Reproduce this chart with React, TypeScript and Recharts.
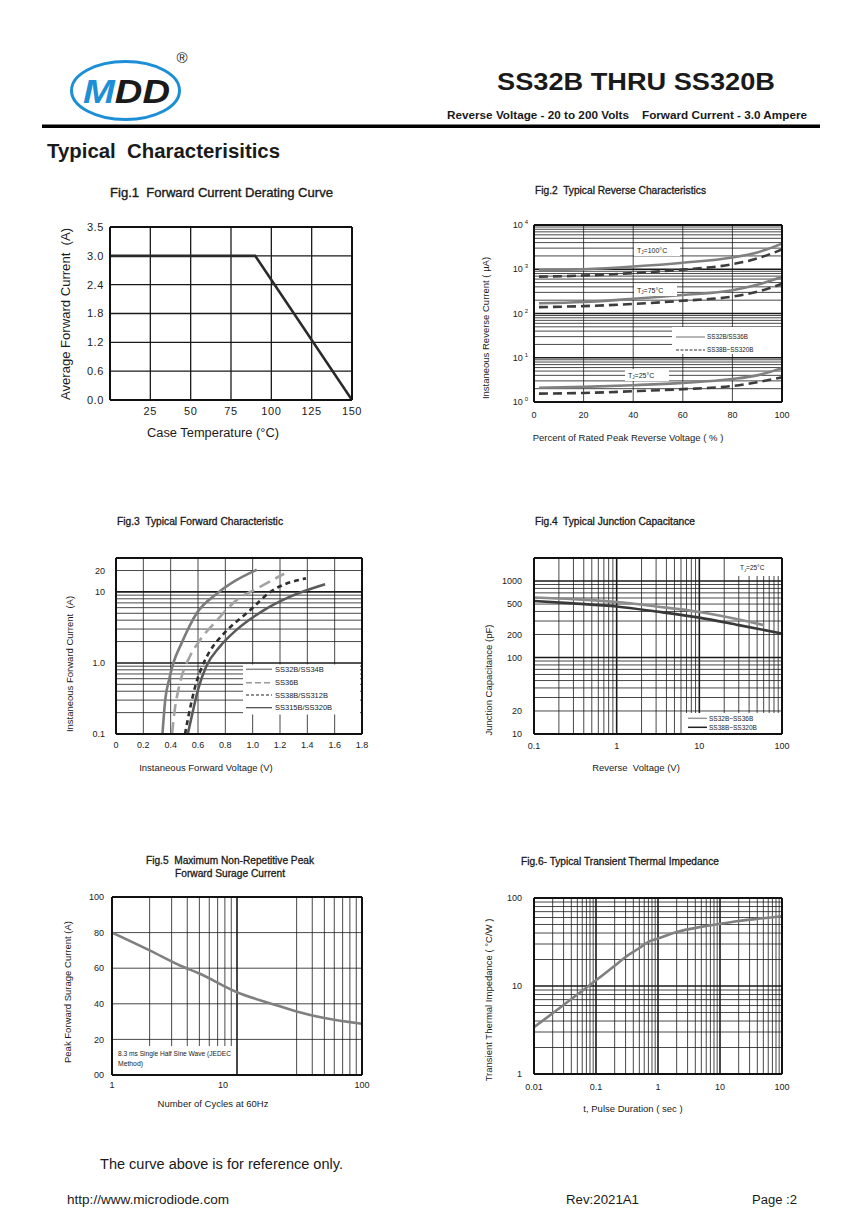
import React from 'react';
import { LineChart, Line, XAxis, YAxis, ReferenceLine } from 'recharts';

const FONT = '"Liberation Sans", Arial, Helvetica, sans-serif';

// ---------- Fig.1 Forward Current Derating Curve ----------
const fig1Temp = [0, 90, 150];
const fig1Current = [3.0, 3.0, 0];
const fig1XTicks = [25, 50, 75, 100, 125, 150];
const fig1YTicks = [0, 0.6, 1.2, 1.8, 2.4, 3.0, 3.6];
const fig1YLabels = ['0.0', '0.6', '1.2', '1.8', '2.4', '3.0', '3.5'];

// ---------- Fig.2 Typical Reverse Characteristics ----------
const fig2Pct = [2, 20, 40, 60, 80, 90, 100];
const fig2Solid100 = [950, 1000, 1150, 1400, 1850, 2400, 3800];
const fig2Dash100 = [680, 720, 820, 980, 1300, 1750, 2800];
const fig2Solid75 = [170, 182, 215, 262, 336, 445, 675];
const fig2Dash75 = [139, 147, 164, 194, 241, 309, 468];
const fig2Solid25 = [2.1, 2.2, 2.4, 2.7, 3.3, 4.0, 5.8];
const fig2Dash25 = [1.55, 1.6, 1.75, 1.95, 2.3, 2.8, 3.6];
const fig2XTicks = [0, 20, 40, 60, 80, 100];
const fig2YTicks = [1, 10, 100, 1000, 10000];
const fig2YExp = ['0', '1', '2', '3', '4'];

// ---------- Fig.3 Typical Forward Characteristic ----------
const fig3V_a = [0.34, 0.36, 0.39, 0.42, 0.48, 0.59, 0.74, 0.88, 1.03];
const fig3I_a = [0.1, 0.3, 0.6, 1.0, 1.9, 5.0, 9.5, 14.6, 20.5];
const fig3V_b = [0.41, 0.43, 0.46, 0.48, 0.54, 0.615, 0.74, 0.88, 1.03, 1.23];
const fig3I_b = [0.1, 0.22, 0.45, 0.64, 1.23, 2.1, 4.0, 7.6, 11.1, 18];
const fig3V_c = [0.505, 0.54, 0.58, 0.63, 0.69, 0.79, 0.98, 1.13, 1.39];
const fig3I_c = [0.1, 0.22, 0.47, 0.89, 1.5, 2.6, 5.5, 10, 15.5];
const fig3V_d = [0.525, 0.565, 0.6, 0.66, 0.76, 0.88, 1.08, 1.27, 1.53];
const fig3I_d = [0.1, 0.22, 0.42, 0.89, 1.7, 2.9, 5.5, 8.5, 12.8];
const fig3XTicks = [0, 0.2, 0.4, 0.6, 0.8, 1.0, 1.2, 1.4, 1.6, 1.8];
const fig3XLabels = ['0', '0.2', '0.4', '0.6', '0.8', '1.0', '1.2', '1.4', '1.6', '1.8'];
const fig3YTicks = [0.1, 1, 10, 20];
const fig3YLabels = ['0.1', '1.0', '10', '20'];
const fig3Legend = ['SS32B/SS34B', 'SS36B', 'SS38B/SS312B', 'SS315B/SS320B'];

// ---------- Fig.4 Typical Junction Capacitance ----------
const fig4V_light = [0.1, 0.3, 1, 3, 10, 30, 61];
const fig4C_light = [610, 580, 532, 465, 394, 315, 265];
const fig4V_dark = [0.1, 0.3, 1, 3, 10, 30, 100];
const fig4C_dark = [548, 510, 465, 400, 332, 265, 206];
const fig4XTicks = [0.1, 1, 10, 100];
const fig4XLabels = ['0.1', '1', '10', '100'];
const fig4YTicks = [10, 20, 100, 200, 500, 1000];
const fig4YLabels = ['10', '20', '100', '200', '500', '1000'];
const fig4Legend = ['SS32B~SS36B', 'SS38B~SS320B'];

// ---------- Fig.5 Maximum Non-Repetitive Peak Forward Surage Current ----------
const fig5Cycles = [1, 2, 3.5, 5, 10, 20, 30, 50, 100];
const fig5Amps = [80, 70, 61.5, 57, 46.5, 39.5, 35.7, 32, 28.8];
const fig5XTicks = [1, 10, 100];
const fig5XLabels = ['1', '10', '100'];
const fig5YTicks = [0, 20, 40, 60, 80, 100];
const fig5YLabels = ['00', '20', '40', '60', '80', '100'];

// ---------- Fig.6 Typical Transient Thermal Impedance ----------
const fig6Time = [0.01, 0.02, 0.05, 0.1, 0.2, 0.3, 0.5, 0.7, 1, 2, 5, 10, 20, 50, 100];
const fig6Z = [3.4, 4.9, 8.0, 11.6, 17, 21.4, 27, 31.8, 34.6, 41, 47, 51, 54.8, 58.8, 62];
const fig6XTicks = [0.01, 0.1, 1, 10, 100];
const fig6XLabels = ['0.01', '0.1', '1', '10', '100'];
const fig6YTicks = [1, 10, 100];
const fig6YLabels = ['1', '10', '100'];

// ---------- helpers ----------
const zip = (xs: number[], ys: number[]) => xs.map((x, i) => ({ x, y: ys[i] }));
const logMinor = (lo: number, hi: number) => {
  const out: number[] = [];
  for (let e = lo; e < hi; e++) for (let m = 2; m <= 9; m++) out.push(m * Math.pow(10, e));
  return out;
};

const labelOf = (ticks: number[], labels: string[], v: number) => {
  const i = ticks.findIndex((t) => Math.abs(t - v) < 1e-9 * Math.max(1, Math.abs(t)));
  return i >= 0 ? labels[i] : String(v);
};

const xTick = (ticks: number[], labels: string[], size = 9, ls = 0, shift: Record<string, number> = {}) =>
  (p: any) => {
    const lab = labelOf(ticks, labels, p.payload.value);
    return (
      <text x={p.x + (shift[lab] || 0)} y={p.y} dy="0.35em" textAnchor="middle" fontSize={size}
        fontFamily={FONT} fill="#222" letterSpacing={ls}>{lab}</text>
    );
  };

const yTick = (ticks: number[], labels: string[], size = 9, ls = 0) =>
  (p: any) => (
    <text x={p.x} y={p.y} dy="0.35em" textAnchor="end" fontSize={size} fontFamily={FONT}
      fill="#222" letterSpacing={ls}>{labelOf(ticks, labels, p.payload.value)}</text>
  );

const yTickPow = (ticks: number[], exps: string[]) =>
  (p: any) => (
    <text x={p.x} y={p.y} dy="0.35em" textAnchor="end" fontSize={9} fontFamily={FONT} fill="#222">
      10<tspan dx={2} dy={-4} fontSize={6}>{labelOf(ticks, exps, p.payload.value)}</tspan>
    </text>
  );

type Box = { x: number; y: number; w: number; h: number };
type Series = { data: { x: number; y: number }[]; stroke: string; width: number; dash?: string; curve?: 'linear' | 'monotone' };

const PL = 60, PT = 10, PR = 10, PB = 30;

function Fig(props: {
  box: Box;
  xDomain: [number, number]; xLog?: boolean; xTicks: number[]; xTickEl: any; xMargin: number;
  yDomain: [number, number]; yLog?: boolean; yTicks: number[]; yTickEl: any; yMargin: number;
  vMinor: number[]; vMajor: number[]; hMinor: number[]; hMajor: number[];
  minorW?: number; majorW?: number; gridColor?: string;
  series: Series[];
}) {
  const { box, minorW = 0.8, majorW = 1.6, gridColor = '#1a1a1a' } = props;
  return (
    <div style={{ position: 'absolute', left: box.x - PL, top: box.y - PT }}>
      <LineChart width={box.w + PL + PR} height={box.h + PT + PB} margin={{ top: PT, right: PR, left: 0, bottom: 0 }}>
        <XAxis type="number" dataKey="x" domain={props.xDomain} scale={props.xLog ? 'log' : 'linear'}
          ticks={props.xTicks} interval={0} tick={props.xTickEl} tickLine={false} axisLine={false}
          tickSize={0} tickMargin={props.xMargin} height={PB} allowDataOverflow />
        <YAxis type="number" domain={props.yDomain} scale={props.yLog ? 'log' : 'linear'}
          ticks={props.yTicks} interval={0} tick={props.yTickEl} tickLine={false} axisLine={false}
          tickSize={0} tickMargin={props.yMargin} width={PL} allowDataOverflow />
        {props.vMinor.map((v) => <ReferenceLine key={'vm' + v} x={v} stroke={gridColor} strokeWidth={minorW} />)}
        {props.hMinor.map((v) => <ReferenceLine key={'hm' + v} y={v} stroke={gridColor} strokeWidth={minorW} />)}
        {props.vMajor.map((v) => <ReferenceLine key={'vM' + v} x={v} stroke={gridColor} strokeWidth={majorW} />)}
        {props.hMajor.map((v) => <ReferenceLine key={'hM' + v} y={v} stroke={gridColor} strokeWidth={majorW} />)}
        {props.series.map((s, i) => (
          <Line key={'s' + i} data={s.data} dataKey="y" type={s.curve || 'monotone'} stroke={s.stroke}
            strokeWidth={s.width} strokeDasharray={s.dash} dot={false} activeDot={false}
            isAnimationActive={false} />
        ))}
        <ReferenceLine x={props.xDomain[0]} stroke="#111" strokeWidth={2} />
        <ReferenceLine x={props.xDomain[1]} stroke="#111" strokeWidth={2} />
        <ReferenceLine y={props.yDomain[0]} stroke="#111" strokeWidth={2} />
        <ReferenceLine y={props.yDomain[1]} stroke="#111" strokeWidth={2} />
      </LineChart>
    </div>
  );
}

function T(p: {
  x: number; y: number; size?: number; anchor?: 'start' | 'middle' | 'end'; bold?: boolean;
  len?: number; rot?: boolean; fill?: string; sw?: number; ls?: number; children: any;
}) {
  const size = p.size || 10;
  const x = p.rot ? p.x + size * 0.35 : p.x;
  return (
    <text x={x} y={p.y} fontSize={size} fontFamily={FONT} fontWeight={p.bold ? 'bold' : 'normal'}
      textAnchor={p.anchor || 'start'} fill={p.fill || '#1a1a1a'}
      stroke={p.sw ? p.fill || '#1a1a1a' : undefined} strokeWidth={p.sw}
      letterSpacing={p.ls} xmlSpace="preserve" style={{ whiteSpace: 'pre' }}
      textLength={p.len} lengthAdjust={p.len ? 'spacingAndGlyphs' : undefined}
      transform={p.rot ? `rotate(-90 ${x} ${p.y})` : undefined}>
      {p.children}
    </text>
  );
}

const TJ = ({ x, y, t, size = 7 }: { x: number; y: number; t: string; size?: number }) => (
  <text x={x} y={y} fontSize={size} fontFamily={FONT} fill="#222">
    T<tspan fontSize={size * 0.65} dy={1.5}>J</tspan><tspan dy={-1.5}>{t}</tspan>
  </text>
);

export default function App() {
  const GRAY = '#808080';
  return (
    <div style={{ position: 'absolute', left: 0, top: 0, width: 868, height: 1228, background: '#fff', fontFamily: FONT }}>
      {/* Fig 1 */}
      <Fig box={{ x: 110, y: 227, w: 242, h: 173 }}
        xDomain={[0, 150]} xTicks={fig1XTicks} xTickEl={xTick(fig1XTicks, fig1XTicks.map(String), 11, 0.6)} xMargin={11}
        yDomain={[0, 3.6]} yTicks={fig1YTicks} yTickEl={yTick(fig1YTicks, fig1YLabels, 11, 0.6)} yMargin={6}
        vMinor={[25, 50, 75, 100, 125]} vMajor={[]} hMinor={[0.6, 1.2, 1.8, 2.4, 3.0]} hMajor={[]}
        minorW={1.3}
        series={[{ data: zip(fig1Temp, fig1Current), stroke: '#2a2a2a', width: 2.6, curve: 'linear' }]} />

      {/* Fig 2 */}
      <Fig box={{ x: 534, y: 225, w: 248, h: 177 }}
        xDomain={[0, 100]} xTicks={fig2XTicks} xTickEl={xTick(fig2XTicks, fig2XTicks.map(String))} xMargin={13}
        yDomain={[1, 10000]} yLog yTicks={fig2YTicks} yTickEl={yTickPow(fig2YTicks, fig2YExp)} yMargin={6}
        vMinor={[20, 40, 60, 80]} vMajor={[]} hMinor={logMinor(0, 4)} hMajor={[10, 100, 1000]}
        series={[
          { data: zip(fig2Pct, fig2Solid100), stroke: GRAY, width: 2.6 },
          { data: zip(fig2Pct, fig2Dash100), stroke: '#3c3c3c', width: 2.6, dash: '9 5' },
          { data: zip(fig2Pct, fig2Solid75), stroke: GRAY, width: 2.6 },
          { data: zip(fig2Pct, fig2Dash75), stroke: '#3c3c3c', width: 2.6, dash: '9 5' },
          { data: zip(fig2Pct, fig2Solid25), stroke: GRAY, width: 2.6 },
          { data: zip(fig2Pct, fig2Dash25), stroke: '#3c3c3c', width: 2.6, dash: '9 5' },
        ]} />

      {/* Fig 3 */}
      <Fig box={{ x: 116, y: 558, w: 246, h: 176 }}
        xDomain={[0, 1.8]} xTicks={fig3XTicks} xTickEl={xTick(fig3XTicks, fig3XLabels)} xMargin={11}
        yDomain={[0.1, 30]} yLog yTicks={fig3YTicks} yTickEl={yTick(fig3YTicks, fig3YLabels)} yMargin={11}
        vMinor={[0.2, 0.4, 0.6, 0.8, 1.0, 1.2, 1.4, 1.6]} vMajor={[]}
        hMinor={[...logMinor(-1, 1), 20]} hMajor={[1, 10]}
        series={[
          { data: zip(fig3V_a, fig3I_a), stroke: '#7c7c7c', width: 2.6 },
          { data: zip(fig3V_b, fig3I_b), stroke: '#a3a3a3', width: 2.6, dash: '12 6' },
          { data: zip(fig3V_c, fig3I_c), stroke: '#2e2e2e', width: 2.6, dash: '5 4' },
          { data: zip(fig3V_d, fig3I_d), stroke: '#5a5a5a', width: 2.6 },
        ]} />

      {/* Fig 4 */}
      <Fig box={{ x: 534, y: 558, w: 248, h: 176 }}
        xDomain={[0.1, 100]} xLog xTicks={fig4XTicks} xTickEl={xTick(fig4XTicks, fig4XLabels)} xMargin={12}
        yDomain={[10, 2000]} yLog yTicks={fig4YTicks} yTickEl={yTick(fig4YTicks, fig4YLabels)} yMargin={12}
        vMinor={logMinor(-1, 2)} vMajor={[1, 10]} hMinor={logMinor(1, 3)} hMajor={[100, 1000]}
        series={[
          { data: zip(fig4V_light, fig4C_light), stroke: '#8c8c8c', width: 2.6 },
          { data: zip(fig4V_dark, fig4C_dark), stroke: '#383838', width: 2.6 },
        ]} />

      {/* Fig 5 */}
      <Fig box={{ x: 112, y: 897, w: 250, h: 178 }}
        xDomain={[1, 100]} xLog xTicks={fig5XTicks} xTickEl={xTick(fig5XTicks, fig5XLabels, 9, 0, { '10': -14 })} xMargin={10}
        yDomain={[0, 100]} yTicks={fig5YTicks} yTickEl={yTick(fig5YTicks, fig5YLabels)} yMargin={8}
        vMinor={[2, 3, 4, 5, 6, 7, 8, 9, 30, 40, 50, 60, 70, 80, 90]} vMajor={[10]}
        hMinor={[20, 40, 60, 80]} hMajor={[]}
        series={[{ data: zip(fig5Cycles, fig5Amps), stroke: GRAY, width: 2.6 }]} />

      {/* Fig 6 */}
      <Fig box={{ x: 534, y: 898, w: 248, h: 176 }}
        xDomain={[0.01, 100]} xLog xTicks={fig6XTicks} xTickEl={xTick(fig6XTicks, fig6XLabels)} xMargin={13}
        yDomain={[1, 100]} yLog yTicks={fig6YTicks} yTickEl={yTick(fig6YTicks, fig6YLabels)} yMargin={12}
        vMinor={logMinor(-2, 2)} vMajor={[0.1, 1, 10]} hMinor={logMinor(0, 2)} hMajor={[10]}
        series={[{ data: zip(fig6Time, fig6Z), stroke: GRAY, width: 2.6 }]} />

      {/* Overlay: header, titles, legends, notes */}
      <svg width={868} height={1228} style={{ position: 'absolute', left: 0, top: 0, pointerEvents: 'none' }}>
        {/* logo */}
        <ellipse cx={125.5} cy={90.5} rx={54} ry={29} fill="none" stroke="#1d8fd6" strokeWidth={3} />
        <text x={83} y={103} fontSize={33} fontWeight="bold" fontStyle="italic" fontFamily={FONT}
          textLength={87} lengthAdjust="spacingAndGlyphs">
          <tspan fill="#1d8fd6">M</tspan><tspan fill="#1a1a1a">DD</tspan>
        </text>
        <T x={182} y={63} size={15} anchor="middle">®</T>
        <T x={497} y={90} size={24} bold len={278}>SS32B THRU SS320B</T>
        <T x={447} y={119} size={11} bold len={360}>{'Reverse Voltage - 20 to 200 Volts    Forward Current - 3.0 Ampere'}</T>
        <rect x={42} y={124.5} width={778} height={3.5} fill="#000" />
        <T x={47} y={158} size={20} bold len={233}>{'Typical  Characterisitics'}</T>

        {/* figure titles */}
        <T x={110} y={196.5} size={12.5} len={223} sw={0.35}>{'Fig.1  Forward Current Derating Curve'}</T>
        <T x={535} y={193.5} size={10} len={171} sw={0.3}>{'Fig.2  Typical Reverse Characteristics'}</T>
        <T x={117} y={524.5} size={10} len={166} sw={0.3}>{'Fig.3  Typical Forward Characteristic'}</T>
        <T x={535} y={524.5} size={10} len={160} sw={0.3}>{'Fig.4  Typical Junction Capacitance'}</T>
        <T x={230} y={863.5} size={10} anchor="middle" len={168} sw={0.3}>{'Fig.5  Maximum Non-Repetitive Peak'}</T>
        <T x={230} y={876.5} size={10} anchor="middle" len={110} sw={0.3}>Forward Surage Current</T>
        <T x={521} y={864.5} size={10} len={198} sw={0.3}>Fig.6- Typical Transient Thermal Impedance</T>

        {/* axis titles */}
        <T x={213} y={437} size={12.5} anchor="middle" len={132}>Case Temperature (°C)</T>
        <T x={66} y={314} size={12.5} anchor="middle" len={172} rot>{'Average Forward Current  (A)'}</T>
        <T x={628} y={440.5} size={9.5} anchor="middle">Percent of Rated Peak Reverse Voltage ( % )</T>
        <T x={486} y={328} size={9.5} anchor="middle" rot>Instaneous Reverse Current ( µA)</T>
        <T x={206} y={770.5} size={9.5} anchor="middle">Instaneous Forward Voltage (V)</T>
        <T x={70} y={664} size={9.5} anchor="middle" rot>{'Instaneous Forward Current  (A)'}</T>
        <T x={636} y={770.5} size={9.5} anchor="middle">{'Reverse  Voltage (V)'}</T>
        <T x={489} y={680} size={9.5} anchor="middle" rot>Junction Capacitance (pF)</T>
        <T x={213} y={1106.5} size={9.5} anchor="middle">Number of Cycles at 60Hz</T>
        <T x={68} y={992} size={9.5} anchor="middle" rot>Peak Forward Surage Current (A)</T>
        <T x={633} y={1111.5} size={9.5} anchor="middle">t, Pulse Duration ( sec )</T>
        <T x={489} y={1000} size={9.5} anchor="middle" rot>Transient Thermal Impedance ( °C/W )</T>

        {/* Fig 2 annotations and legend */}
        <rect x={634} y={244} width={46} height={12} fill="#fff" />
        <TJ x={637} y={252.5} t="=100°C" />
        <rect x={634} y={284} width={43} height={12} fill="#fff" />
        <TJ x={637} y={292.5} t="=75°C" />
        <rect x={625} y={369} width={44} height={12} fill="#fff" />
        <TJ x={628} y={377.5} t="=25°C" />
        <rect x={672} y={327} width={109} height={27} fill="#fff" />
        <line x1={676} x2={705} y1={337} y2={337} stroke="#888" strokeWidth={1.2} />
        <line x1={676} x2={705} y1={350} y2={350} stroke="#333" strokeWidth={1.2} strokeDasharray="3 1.5" />
        <T x={707} y={339.3} size={6.3}>{'SS32B/SS36B'}</T>
        <T x={707} y={352.3} size={6.3}>{'SS38B~SS320B'}</T>

        {/* Fig 3 legend */}
        <rect x={243} y={664.5} width={117} height={50} fill="#fff" />
        <line x1={246} x2={272} y1={669.3} y2={669.3} stroke="#888" strokeWidth={1.5} />
        <line x1={246} x2={272} y1={682.7} y2={682.7} stroke="#999" strokeWidth={1.5} strokeDasharray="6 3" />
        <line x1={246} x2={272} y1={695} y2={695} stroke="#222" strokeWidth={1.2} strokeDasharray="3 2" />
        <line x1={246} x2={272} y1={707.7} y2={707.7} stroke="#444" strokeWidth={1.2} />
        {fig3Legend.map((s, i) => (
          <T key={s} x={275} y={[672, 685.4, 697.7, 710.4][i]} size={7.5}>{s}</T>
        ))}

        {/* Fig 4 note and legend */}
        <rect x={736} y={559} width={45} height={17} fill="#fff" />
        <TJ x={740} y={570} t="=25°C" size={6.5} />
        <rect x={683} y={713} width={98} height={20} fill="#fff" />
        <line x1={688} x2={707} y1={718.3} y2={718.3} stroke="#999" strokeWidth={1.5} />
        <line x1={688} x2={707} y1={727.3} y2={727.3} stroke="#222" strokeWidth={1.5} />
        <T x={709} y={720.5} size={6.5}>{fig4Legend[0]}</T>
        <T x={709} y={729.5} size={6.5}>{fig4Legend[1]}</T>

        {/* Fig 5 note */}
        <rect x={113} y={1046} width={121} height={28} fill="#fff" />
        <T x={118} y={1056} size={6.8} len={113}>8.3 ms Single Half Sine Wave (JEDEC</T>
        <T x={118} y={1066} size={6.8}>Method)</T>

        {/* footer */}
        <T x={100} y={1169} size={14} len={243}>The curve above is for reference only.</T>
        <T x={67} y={1203.5} size={12.5} len={162}>http://www.microdiode.com</T>
        <T x={566} y={1203.5} size={12.5} len={73}>Rev:2021A1</T>
        <T x={752} y={1203.5} size={12.5} len={45}>Page :2</T>
      </svg>
    </div>
  );
}
